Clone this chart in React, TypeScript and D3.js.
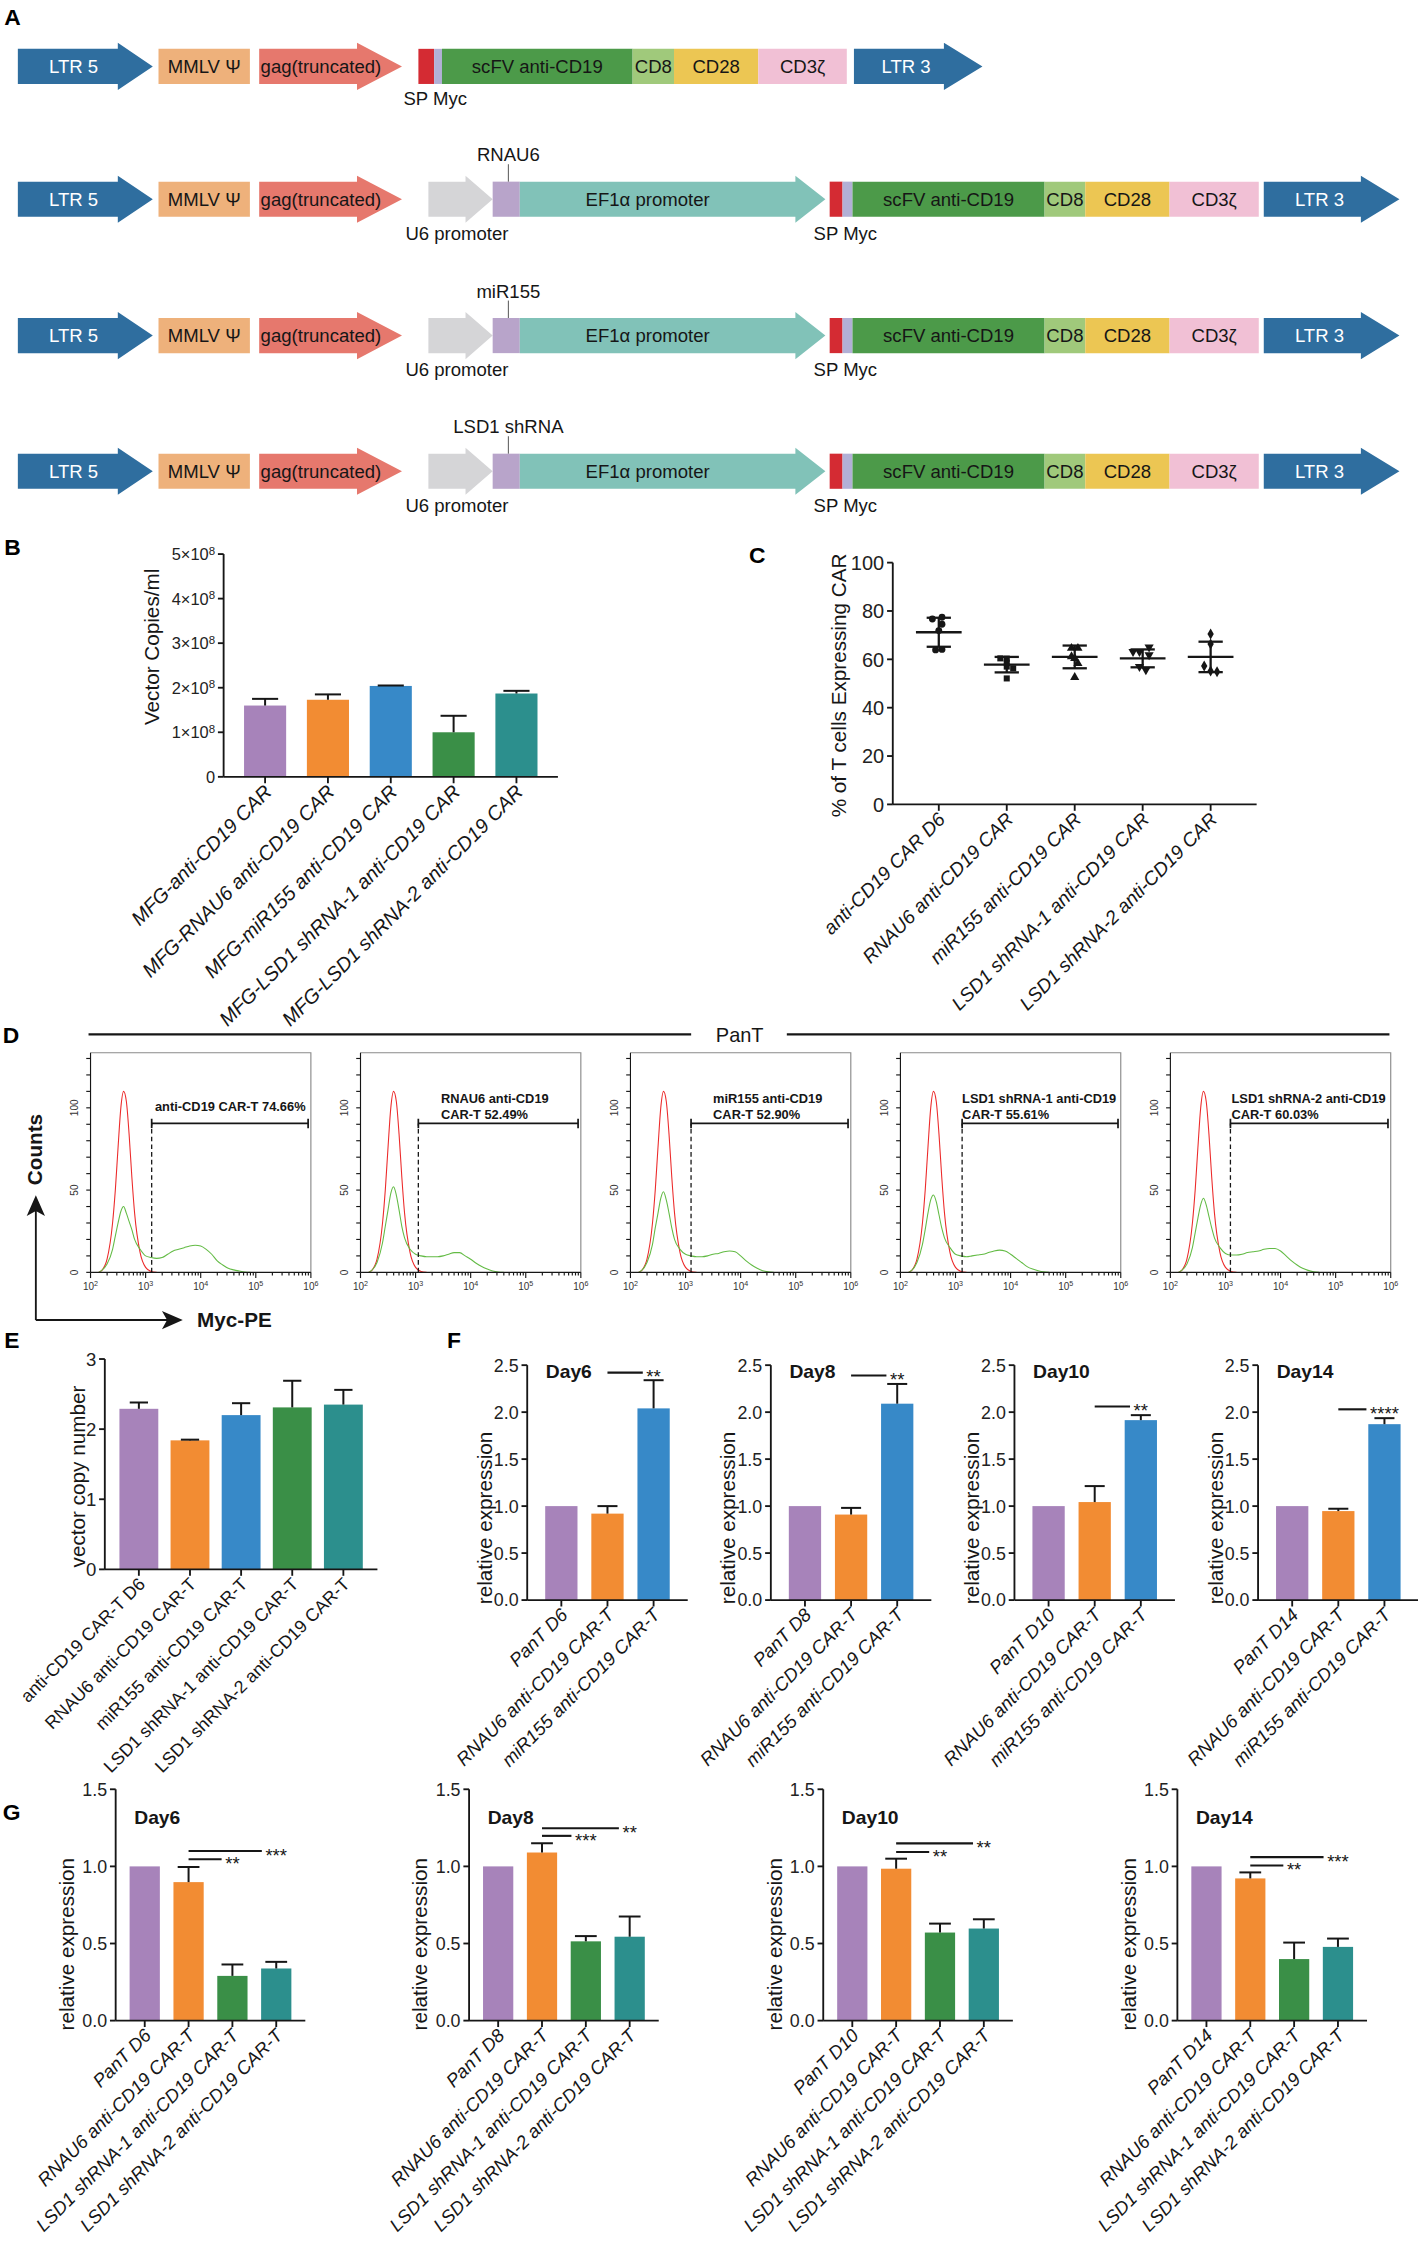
import * as d3 from "d3";
import React from "react";

// whole figure is laid out in a 993-wide coordinate system, scaled up by the viewBox
const S = 1418 / 993;
const VW = 993;
const VH = 2242 / S;

const SANS = "'Liberation Sans', Arial, Helvetica, sans-serif";
const NARROW = "'Liberation Sans Narrow', 'Arial Narrow', 'Liberation Sans', Arial, sans-serif";

const PURPLE = "#a783ba";
const ORANGE = "#f28c33";
const BLUE = "#3789c8";
const GREEN = "#3a8f47";
const TEAL = "#2c8f8d";
const INK = "#161616";

// ---------- panel A : vector constructs ----------
type Part = { text: string; x0: number; x1: number; tip?: number; fill: string; color?: string; dx?: number };

const aCommon: Part[] = [
    { text: "LTR 5", x0: 12.5, x1: 82.5, tip: 107, fill: "#2f6e9f", color: "#fff", dx: 4 },
    { text: "MMLV Ψ", x0: 111, x1: 175, fill: "#eeb17b" },
    { text: "gag(truncated)", x0: 181.5, x1: 250, tip: 281.5, fill: "#e6786d", dx: 9 },
];
const aTail1: Part[] = [
    { text: "", x0: 293, x1: 304, fill: "#d42b33" },
    { text: "", x0: 304, x1: 309.5, fill: "#b2b0d6" },
    { text: "scFV anti-CD19", x0: 309.5, x1: 443, fill: "#4c9a49" },
    { text: "CD8", x0: 443, x1: 472, fill: "#a0c97b" },
    { text: "CD28", x0: 472, x1: 531, fill: "#ecc653" },
    { text: "CD3ζ", x0: 531, x1: 593, fill: "#f1c0d5" },
    { text: "LTR 3", x0: 598, x1: 661, tip: 688, fill: "#2f6e9f", color: "#fff", dx: 5 },
];
const aTail2: Part[] = [
    { text: "", x0: 300, x1: 326, tip: 345, fill: "#d5d5d7" },
    { text: "", x0: 345, x1: 364, fill: "#b8a4ca" },
    { text: "EF1α promoter", x0: 364, x1: 557, tip: 578, fill: "#81c2b8", dx: -7 },
    { text: "", x0: 581, x1: 590, fill: "#d42b33" },
    { text: "", x0: 590, x1: 597, fill: "#b2b0d6" },
    { text: "scFV anti-CD19", x0: 597, x1: 731.5, fill: "#4c9a49" },
    { text: "CD8", x0: 731.5, x1: 760, fill: "#a0c97b" },
    { text: "CD28", x0: 760, x1: 819, fill: "#ecc653" },
    { text: "CD3ζ", x0: 819, x1: 881.5, fill: "#f1c0d5" },
    { text: "LTR 3", x0: 885, x1: 953, tip: 980, fill: "#2f6e9f", color: "#fff", dx: 5 },
];
const aRowY = [46.5, 139.5, 235, 330];
const aInserts = ["", "RNAU6", "miR155", "LSD1 shRNA"];

// ---------- panel B ----------
const bCats = [
    "MFG-anti-CD19 CAR",
    "MFG-RNAU6 anti-CD19 CAR",
    "MFG-miR155 anti-CD19 CAR",
    "MFG-LSD1 shRNA-1 anti-CD19 CAR",
    "MFG-LSD1 shRNA-2 anti-CD19 CAR",
];
const bMeans = [1.6e8, 1.73e8, 2.04e8, 1.0e8, 1.87e8];
const bErrs = [0.15e8, 0.12e8, 0.01e8, 0.37e8, 0.06e8];
const bTicks = [0, 1e8, 2e8, 3e8, 4e8, 5e8];

// ---------- panel C ----------
const cCats = [
    "anti-CD19 CAR D6",
    "RNAU6 anti-CD19 CAR",
    "miR155 anti-CD19 CAR",
    "LSD1 shRNA-1 anti-CD19 CAR",
    "LSD1 shRNA-2 anti-CD19 CAR",
];
const cPoints = [
    [76.7, 77.4, 74.5, 71.9, 63.9, 64.1],
    [60.4, 60.3, 58.6, 57.0, 56.3, 52.1],
    [64.6, 64.6, 61.1, 60.4, 58.3, 52.6],
    [63.2, 63.2, 65.0, 61.8, 57.0, 55.6],
    [70.5, 66.3, 57.2, 55.2, 54.9],
];
const cMeans = [71.2, 57.8, 61.0, 60.4, 61.0];
const cSD = [6.0, 3.2, 4.7, 3.7, 6.3];
const cTicks = [0, 20, 40, 60, 80, 100];

// ---------- panel D : flow histograms ----------
const hLog = [2.15, 2.2, 2.3, 2.4, 2.45, 2.5, 2.55, 2.6, 2.65, 2.7, 2.75, 2.8, 2.9, 3.0, 3.1, 3.2, 3.3,
    3.4, 3.5, 3.6, 3.7, 3.8, 3.9, 4.0, 4.1, 4.2, 4.3, 4.4, 4.5, 4.6, 4.7, 4.8, 4.9];
const hPanT = [0, 1, 8, 30, 50, 76, 100, 110, 104, 84, 58, 36, 12, 3, 0.5, 0];
const hCar1 = [0, 1, 5, 14, 22, 30, 37, 40, 36, 31, 26, 20, 14, 10, 9, 8.5, 9, 11, 13, 14, 15, 16, 16.5, 16, 14, 11, 7, 4.5, 2.5, 1.5, 0.8, 0.2, 0];
const hCar2 = [0, 1, 6, 18, 28, 38, 48, 52, 47, 38, 28, 21, 14, 11, 10, 9.5, 9.5, 9.5, 10, 11, 12, 12, 10, 8, 5.5, 3.5, 2, 0.8, 0.2, 0];
const hCar3 = [0, 1, 6, 17, 27, 36, 45, 49, 44, 36, 27, 20, 14, 11, 10, 9.5, 9.5, 10, 11, 11.5, 12.5, 13, 12.5, 10, 7, 4.5, 2.5, 1, 0.3, 0];
const hCar4 = [0, 1, 6, 17, 26, 36, 44, 47, 43, 35, 27, 21, 15, 11, 10, 9.5, 10, 10.5, 11, 12, 13, 13.5, 13, 11, 8.5, 6, 3.5, 2, 1, 0.3, 0];
const hCar5 = [0, 1, 5, 15, 24, 33, 41, 45, 41, 34, 27, 21, 15, 11.5, 10.5, 10.5, 11, 12, 12.5, 13, 14, 14.5, 14.5, 13, 10, 7, 4.5, 2.5, 1.2, 0.4, 0];
const hCars = [hCar1, hCar2, hCar3, hCar4, hCar5];
const hGate = [3.11, 3.05, 3.1, 3.12, 3.09];
const hGateText = [
    ["anti-CD19 CAR-T 74.66%"],
    ["RNAU6 anti-CD19", "CAR-T 52.49%"],
    ["miR155 anti-CD19", "CAR-T 52.90%"],
    ["LSD1 shRNA-1 anti-CD19", "CAR-T 55.61%"],
    ["LSD1 shRNA-2 anti-CD19", "CAR-T 60.03%"],
];
const hGateTextX = [3.17, 3.46, 3.5, 3.12, 3.11];

// ---------- panel E ----------
const eCats = [
    "anti-CD19 CAR-T D6",
    "RNAU6 anti-CD19 CAR-T",
    "miR155 anti-CD19 CAR-T",
    "LSD1 shRNA-1 anti-CD19 CAR-T",
    "LSD1 shRNA-2 anti-CD19 CAR-T",
];
const eMeans = [2.29, 1.84, 2.2, 2.31, 2.35];
const eErrs = [0.09, 0.01, 0.17, 0.38, 0.21];

// ---------- panel F ----------
const fDays = ["Day6", "Day8", "Day10", "Day14"];
const fPanT = ["PanT D6", "PanT D8", "PanT D10", "PanT D14"];
const fGroups = ["RNAU6 anti-CD19 CAR-T", "miR155 anti-CD19 CAR-T"];
const fMeans = [
    [1.0, 0.92, 2.04],
    [1.0, 0.91, 2.09],
    [1.0, 1.043, 1.915],
    [1.0, 0.947, 1.872],
];
const fErrs = [
    [0, 0.08, 0.3],
    [0, 0.071, 0.21],
    [0, 0.17, 0.053],
    [0, 0.025, 0.064],
];
const fSig = [2.42, 2.39, 2.06, 2.03];
const fSigText = ["**", "**", "**", "****"];

// ---------- panel G ----------
const gGroups = ["RNAU6 anti-CD19 CAR-T", "LSD1 shRNA-1 anti-CD19 CAR-T", "LSD1 shRNA-2 anti-CD19 CAR-T"];
const gMeans = [
    [1.0, 0.898, 0.29, 0.338],
    [1.0, 1.09, 0.514, 0.544],
    [1.0, 0.985, 0.571, 0.597],
    [1.0, 0.922, 0.399, 0.478],
];
const gErrs = [
    [0, 0.098, 0.074, 0.043],
    [0, 0.06, 0.034, 0.131],
    [0, 0.065, 0.058, 0.06],
    [0, 0.039, 0.107, 0.054],
];
const gSigShort = [1.046, 1.198, 1.093, 1.006];
const gSigShortText = ["**", "***", "**", "**"];
const gSigLong = [1.1, 1.247, 1.149, 1.06];
const gSigLongText = ["***", "**", "**", "***"];

// ---------------------------------------------------------------

const Construct: React.FC<{ row: number }> = ({ row }) => {
    const cy = aRowY[row];
    const parts = row === 0 ? [...aCommon, ...aTail1] : [...aCommon, ...aTail2];
    const hb = 12.3;
    const hh = 16.5;
    return (
        <g>
            {parts.map((p, i) => {
                const d = p.tip
                    ? `M${p.x0},${cy - hb}H${p.x1}V${cy - hh}L${p.tip},${cy}L${p.x1},${cy + hh}V${cy + hb}H${p.x0}Z`
                    : `M${p.x0},${cy - hb}H${p.x1}V${cy + hb}H${p.x0}Z`;
                return <path key={i} d={d} fill={p.fill} />;
            })}
            {parts
                .filter((p) => p.text)
                .map((p, i) => (
                    <text
                        key={"t" + i}
                        x={(p.x0 + p.x1) / 2 + (p.dx || 0)}
                        y={cy}
                        dy="0.36em"
                        textAnchor="middle"
                        fontSize={13}
                        fill={p.color || INK}
                    >
                        {p.text}
                    </text>
                ))}
            {row === 0 ? (
                <text x={304.8} y={cy + 27} textAnchor="middle" fontSize={13} fill={INK}>
                    SP Myc
                </text>
            ) : (
                <g fontSize={13} fill={INK} textAnchor="middle">
                    <text x={320} y={cy + 28.5}>U6 promoter</text>
                    <text x={592} y={cy + 28.5}>SP Myc</text>
                    <text x={356} y={cy - 26.5}>{aInserts[row]}</text>
                    <line x1={356} x2={356} y1={cy - 24.5} y2={cy - hb} stroke="#555" strokeWidth={0.7} />
                </g>
            )}
        </g>
    );
};

type Sig = { from: number; to: number; v: number; text: string };

type BarProps = {
    cats: string[];
    vals: number[];
    errs: number[];
    colors: string[];
    x0: number;
    x1: number;
    y0: number;
    y1: number;
    max: number;
    ticks: number[];
    fmt: (v: number) => React.ReactNode;
    tickSize: number;
    pi: number;
    po: number;
    cap: number;
    labelSize: number;
    italic: boolean;
    yTitle: string;
    yTitleX: number;
    yTitleY: number;
    title?: string;
    titleY?: number;
    sigs?: Sig[];
};

const BarChart: React.FC<BarProps> = (p) => {
    const x = d3.scaleBand<string>().domain(p.cats).range([p.x0, p.x1]).paddingInner(p.pi).paddingOuter(p.po);
    const y = d3.scaleLinear().domain([0, p.max]).range([p.y0, p.y1]);
    const bw = x.bandwidth();
    const cx = (c: string) => (x(c) ?? 0) + bw / 2;
    const starFs = 13;
    return (
        <g>
            {p.cats.map((c, i) => (
                <rect key={c} x={x(c)} y={y(p.vals[i])} width={bw} height={p.y0 - y(p.vals[i])} fill={p.colors[i]} />
            ))}
            {p.cats.map((c, i) =>
                p.errs[i] > 0 ? (
                    <g key={"e" + c} stroke={INK} strokeWidth={1.4}>
                        <line x1={cx(c)} x2={cx(c)} y1={y(p.vals[i])} y2={y(p.vals[i] + p.errs[i])} />
                        <line
                            x1={cx(c) - (bw * p.cap) / 2}
                            x2={cx(c) + (bw * p.cap) / 2}
                            y1={y(p.vals[i] + p.errs[i])}
                            y2={y(p.vals[i] + p.errs[i])}
                        />
                    </g>
                ) : null
            )}
            <g stroke={INK} strokeWidth={1.3}>
                <line x1={p.x0} x2={p.x0} y1={p.y0} y2={y(p.max)} />
                <line x1={p.x0} x2={p.x1} y1={p.y0} y2={p.y0} />
                {p.ticks.map((t) => (
                    <line key={t} x1={p.x0 - 4} x2={p.x0} y1={y(t)} y2={y(t)} />
                ))}
                {p.cats.map((c) => (
                    <line key={c} x1={cx(c)} x2={cx(c)} y1={p.y0} y2={p.y0 + 4.5} />
                ))}
            </g>
            {p.ticks.map((t) => (
                <text
                    key={t}
                    x={p.x0 - 6}
                    y={y(t)}
                    dy="0.36em"
                    textAnchor="end"
                    fontSize={p.tickSize}
                    fontFamily={NARROW}
                    fill="#222"
                >
                    {p.fmt(t)}
                </text>
            ))}
            {p.cats.map((c) => (
                <text
                    key={c}
                    transform={`translate(${cx(c) + 2},${p.y0 + 8}) rotate(-45)`}
                    dy="0.35em"
                    textAnchor="end"
                    fontSize={p.labelSize}
                    fontStyle={p.italic ? "italic" : "normal"}
                    fill={INK}
                >
                    {c}
                </text>
            ))}
            <text
                transform={`translate(${p.yTitleX},${p.yTitleY}) rotate(-90)`}
                dy="0.36em"
                textAnchor="middle"
                fontSize={14.5}
                fill={INK}
            >
                {p.yTitle}
            </text>
            {p.title ? (
                <text x={p.x0 + 13} y={p.titleY} fontSize={13.5} fontWeight="bold" fill={INK}>
                    {p.title}
                </text>
            ) : null}
            {(p.sigs || []).map((s, k) => {
                const a = cx(p.cats[s.from]);
                const b = cx(p.cats[s.to]);
                const half = (s.text.length * 0.389 * starFs) / 2;
                return (
                    <g key={"s" + k}>
                        <line x1={a} x2={b - half - 2.5} y1={y(s.v)} y2={y(s.v)} stroke={INK} strokeWidth={1.5} />
                        <text x={b} y={y(s.v) + 0.58 * starFs} textAnchor="middle" fontSize={starFs} fill={INK}>
                            {s.text}
                        </text>
                    </g>
                );
            })}
        </g>
    );
};

const DotChart: React.FC = () => {
    const x0 = 625.2;
    const x1 = 880;
    const y0 = 563.3;
    const x = d3.scalePoint<string>().domain(cCats).range([x0, x1]).padding(0.677);
    const y = d3.scaleLinear().domain([0, 100]).range([y0, 394]);
    const shapes = [d3.symbolCircle, d3.symbolSquare, d3.symbolTriangle, d3.symbolTriangle, d3.symbolDiamond];
    return (
        <g>
            {cCats.map((c, g) => {
                const cx = x(c) ?? 0;
                const pts = cPoints[g];
                const path = d3.symbol().type(shapes[g]).size(g === 4 ? 17 : 18)() || "";
                return (
                    <g key={c}>
                        {pts.map((v, i) => {
                            const near = pts.map((w, j) => (Math.abs(w - v) < 2.5 ? j : -1)).filter((j) => j >= 0);
                            const k = near.indexOf(i);
                            const off = (k - (near.length - 1) / 2) * 4.5;
                            return (
                                <path
                                    key={i}
                                    d={path}
                                    transform={`translate(${cx + off},${y(v)})${g === 3 ? " rotate(180)" : ""}`}
                                    fill={INK}
                                />
                            );
                        })}
                        <g stroke={INK} strokeWidth={1.6}>
                            <line x1={cx - 16} x2={cx + 16} y1={y(cMeans[g])} y2={y(cMeans[g])} />
                            <line x1={cx} x2={cx} y1={y(cMeans[g] - cSD[g])} y2={y(cMeans[g] + cSD[g])} />
                            <line x1={cx - 8.5} x2={cx + 8.5} y1={y(cMeans[g] + cSD[g])} y2={y(cMeans[g] + cSD[g])} />
                            <line x1={cx - 8.5} x2={cx + 8.5} y1={y(cMeans[g] - cSD[g])} y2={y(cMeans[g] - cSD[g])} />
                        </g>
                    </g>
                );
            })}
            <g stroke={INK} strokeWidth={1.3}>
                <line x1={x0} x2={x0} y1={y0} y2={y(100)} />
                <line x1={x0} x2={x1} y1={y0} y2={y0} />
                {cTicks.map((t) => (
                    <line key={t} x1={x0 - 4} x2={x0} y1={y(t)} y2={y(t)} />
                ))}
                {cCats.map((c) => (
                    <line key={c} x1={x(c)} x2={x(c)} y1={y0} y2={y0 + 4.5} />
                ))}
            </g>
            {cTicks.map((t) => (
                <text key={t} x={x0 - 6} y={y(t)} dy="0.36em" textAnchor="end" fontSize={14} fontFamily={NARROW} fill="#222">
                    {t}
                </text>
            ))}
            {cCats.map((c) => (
                <text
                    key={c}
                    transform={`translate(${(x(c) ?? 0) + 2},${y0 + 8}) rotate(-45)`}
                    dy="0.35em"
                    textAnchor="end"
                    fontSize={13.5}
                    fontStyle="italic"
                    fill={INK}
                >
                    {c}
                </text>
            ))}
            <text transform={`translate(587,480) rotate(-90)`} dy="0.36em" textAnchor="middle" fontSize={14.5} fill={INK}>
                % of T cells Expressing CAR
            </text>
        </g>
    );
};

const Histo: React.FC<{ i: number }> = ({ i }) => {
    const left = 63.4 + i * 189.05;
    const right = left + 154.3;
    const top = 737.2;
    const bottom = 891;
    const x = d3.scaleLog().domain([1e2, 1e6]).range([left, right]);
    const y = d3.scaleLinear().domain([0, 133.5]).range([bottom, top]);
    const line = d3
        .line<number>()
        .x((_, k) => x(10 ** hLog[k]))
        .y((d) => y(d))
        .curve(d3.curveMonotoneX);
    const minors: number[] = [];
    for (let e = 2; e < 6; e++) for (let m = 2; m <= 9; m++) minors.push(m * 10 ** e);
    const gx = x(10 ** hGate[i]);
    const gEnd = x(10 ** 5.95);
    const gy = y(90.5);
    const lines = hGateText[i];
    return (
        <g>
            <path d={`M${left},${top}H${right}V${bottom}`} fill="none" stroke="#8a8a8a" strokeWidth={0.8} />
            <path d={line(hPanT) || ""} fill="none" stroke="#ec2a2a" strokeWidth={0.75} />
            <path d={line(hCars[i]) || ""} fill="none" stroke="#63bb45" strokeWidth={0.75} />
            <g stroke={INK} strokeWidth={0.8} fill="none">
                <line x1={left} x2={left} y1={bottom} y2={top} />
                <line x1={left} x2={right} y1={bottom} y2={bottom} />
                {d3.range(0, 131, 10).map((t) => (
                    <line key={t} x1={left - 3} x2={left} y1={y(t)} y2={y(t)} />
                ))}
                {[1e2, 1e3, 1e4, 1e5, 1e6].map((t) => (
                    <line key={t} x1={x(t)} x2={x(t)} y1={bottom} y2={bottom + 4} />
                ))}
                {minors.map((t) => (
                    <line key={t} x1={x(t)} x2={x(t)} y1={bottom} y2={bottom + 2.2} />
                ))}
            </g>
            {[0, 50, 100].map((t) => (
                <text
                    key={t}
                    transform={`translate(${left - 9},${y(t)}) rotate(-90)`}
                    textAnchor="middle"
                    fontSize={7}
                    fontFamily={NARROW}
                    fill="#333"
                >
                    {t}
                </text>
            ))}
            {[2, 3, 4, 5, 6].map((e) => (
                <text key={e} x={x(10 ** e)} y={bottom + 12.5} textAnchor="middle" fontSize={7} fontFamily={NARROW} fill="#333">
                    10
                    <tspan dy="-3" fontSize={5}>
                        {e}
                    </tspan>
                </text>
            ))}
            <line x1={gx} x2={gx} y1={bottom} y2={gy} stroke={INK} strokeWidth={0.9} strokeDasharray="3.2,2.2" />
            <g stroke={INK} strokeWidth={1.2}>
                <line x1={gx} x2={gEnd} y1={gy} y2={gy} />
                <line x1={gx} x2={gx} y1={gy - 3.3} y2={gy + 3.3} />
                <line x1={gEnd} x2={gEnd} y1={gy - 3.3} y2={gy + 3.3} />
            </g>
            <g fontSize={9} fontWeight="bold" fill={INK}>
                {lines.length === 1 ? (
                    <text x={x(10 ** hGateTextX[i])} y={y(98)}>
                        {lines[0]}
                    </text>
                ) : (
                    <>
                        <text x={x(10 ** hGateTextX[i])} y={y(103)}>
                            {lines[0]}
                        </text>
                        <text x={x(10 ** hGateTextX[i])} y={y(93.3)}>
                            {lines[1]}
                        </text>
                    </>
                )}
            </g>
        </g>
    );
};

const bFmt = (v: number) =>
    v === 0 ? (
        "0"
    ) : (
        <>
            {`${v / 1e8}×10`}
            <tspan dy="-0.45em" fontSize="70%">
                8
            </tspan>
        </>
    );
const decFmt = (v: number) => d3.format(".1f")(v);

const App: React.FC = () => {
    const fAxes = [369.2, 539.8, 710.4, 881];
    const gAxes = [81, 328.5, 576.5, 824.5];
    return (
        <div style={{ position: "absolute", left: 0, top: 0, width: 1418, height: 2242, background: "#fff" }}>
            <svg width={1418} height={2242} viewBox={`0 0 ${VW} ${VH}`} style={{ display: "block" }} fontFamily={SANS}>
                <rect x={0} y={0} width={VW} height={VH} fill="#fff" />

                {/* panel letters */}
                <g fontSize={16} fontWeight="bold" fill="#000">
                    <text x={3} y={17.5}>A</text>
                    <text x={3} y={389}>B</text>
                    <text x={524.5} y={394.5}>C</text>
                    <text x={2} y={730.5}>D</text>
                    <text x={3} y={944}>E</text>
                    <text x={313} y={944}>F</text>
                    <text x={2} y={1274.6}>G</text>
                </g>

                {/* A */}
                {aRowY.map((_, r) => (
                    <Construct key={r} row={r} />
                ))}

                {/* B */}
                <BarChart
                    cats={bCats}
                    vals={bMeans}
                    errs={bErrs}
                    colors={[PURPLE, ORANGE, BLUE, GREEN, TEAL]}
                    x0={156.6}
                    x1={390.7}
                    y0={544}
                    y1={388}
                    max={5e8}
                    ticks={bTicks}
                    fmt={bFmt}
                    tickSize={11.5}
                    pi={0.33}
                    po={0.325}
                    cap={0.62}
                    labelSize={14}
                    italic={true}
                    yTitle="Vector Copies/ml"
                    yTitleX={106}
                    yTitleY={453}
                />

                {/* C */}
                <DotChart />

                {/* D */}
                <line x1={62} x2={484} y1={724.3} y2={724.3} stroke={INK} strokeWidth={1.6} />
                <line x1={551} x2={973} y1={724.3} y2={724.3} stroke={INK} strokeWidth={1.6} />
                <text x={518} y={729.5} textAnchor="middle" fontSize={14} fill={INK}>
                    PanT
                </text>
                {hCars.map((_, i) => (
                    <Histo key={i} i={i} />
                ))}
                <g stroke={INK} strokeWidth={1.3} fill="none">
                    <line x1={25.1} x2={25.1} y1={924.4} y2={847} />
                    <line x1={25.1} x2={118} y1={924.4} y2={924.4} />
                </g>
                <path d="M25.1,837L31.5,851.6L25.1,848L18.7,851.6Z" fill={INK} />
                <path d="M128,924.4L113.4,918L117,924.4L113.4,930.8Z" fill={INK} />
                <text transform="translate(24,805) rotate(-90)" dy="0.36em" textAnchor="middle" fontSize={14.5} fontWeight="bold" fill={INK}>
                    Counts
                </text>
                <text x={138} y={929} fontSize={14.5} fontWeight="bold" fill={INK}>
                    Myc-PE
                </text>

                {/* E */}
                <BarChart
                    cats={eCats}
                    vals={eMeans}
                    errs={eErrs}
                    colors={[PURPLE, ORANGE, BLUE, GREEN, TEAL]}
                    x0={73.4}
                    x1={264.3}
                    y0={1099}
                    y1={951.7}
                    max={3}
                    ticks={[0, 1, 2, 3]}
                    fmt={(v) => String(v)}
                    tickSize={13}
                    pi={0.24}
                    po={0.286}
                    cap={0.47}
                    labelSize={12.5}
                    italic={false}
                    yTitle="vector copy number"
                    yTitleX={54.3}
                    yTitleY={1034}
                />

                {/* F */}
                {fDays.map((d, k) => (
                    <BarChart
                        key={d}
                        cats={[fPanT[k], ...fGroups]}
                        vals={fMeans[k]}
                        errs={fErrs[k]}
                        colors={[PURPLE, ORANGE, BLUE]}
                        x0={fAxes[k]}
                        x1={fAxes[k] + 112.4}
                        y0={1120.5}
                        y1={956}
                        max={2.5}
                        ticks={[0, 0.5, 1, 1.5, 2, 2.5]}
                        fmt={decFmt}
                        tickSize={12.5}
                        pi={0.3}
                        po={0.39}
                        cap={0.62}
                        labelSize={13}
                        italic={true}
                        yTitle="relative expression"
                        yTitleX={fAxes[k] - 30}
                        yTitleY={1063}
                        title={d}
                        titleY={965}
                        sigs={[{ from: 1, to: 2, v: fSig[k], text: fSigText[k] }]}
                    />
                ))}

                {/* G */}
                {fDays.map((d, k) => (
                    <BarChart
                        key={"g" + d}
                        cats={[fPanT[k], ...gGroups]}
                        vals={gMeans[k]}
                        errs={gErrs[k]}
                        colors={[PURPLE, ORANGE, GREEN, TEAL]}
                        x0={gAxes[k]}
                        x1={gAxes[k] + 132.8}
                        y0={1415}
                        y1={1253}
                        max={1.5}
                        ticks={[0, 0.5, 1, 1.5]}
                        fmt={decFmt}
                        tickSize={12.5}
                        pi={0.31}
                        po={0.318}
                        cap={0.72}
                        labelSize={13}
                        italic={true}
                        yTitle="relative expression"
                        yTitleX={gAxes[k] - 34.4}
                        yTitleY={1361.5}
                        title={d}
                        titleY={1277}
                        sigs={[
                            { from: 1, to: 2, v: gSigShort[k], text: gSigShortText[k] },
                            { from: 1, to: 3, v: gSigLong[k], text: gSigLongText[k] },
                        ]}
                    />
                ))}
            </svg>
        </div>
    );
};

export default App;
